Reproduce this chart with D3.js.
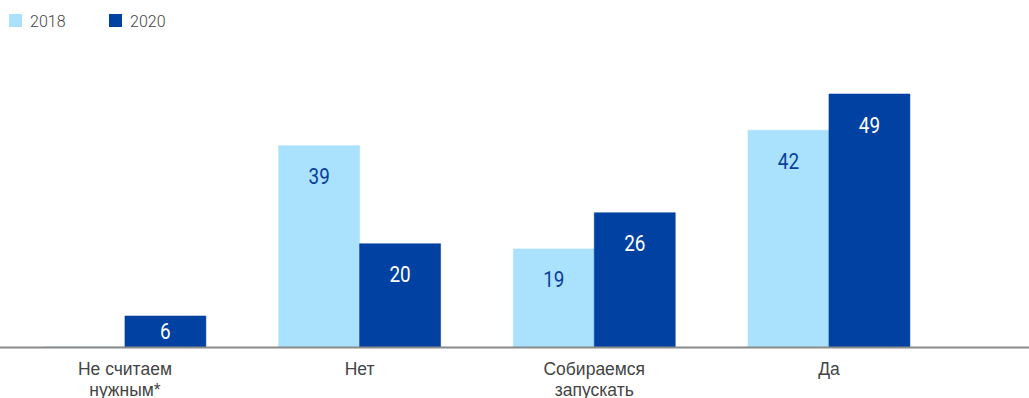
<!DOCTYPE html>
<html>
<head>
<meta charset="utf-8">
<script src="https://cdn.jsdelivr.net/npm/d3@7"></script>
<style>
  html, body { margin: 0; padding: 0; background: #fff; }
  svg { display: block; font-family: Roboto, "Noto Sans", sans-serif; }
</style>
</head>
<body>
<svg id="chart" width="1029" height="398"></svg>
<script>
// Survey answers, share of respondents (%)
const categories = [["Не считаем", "нужным*"], ["Нет"], ["Собираемся", "запускать"], ["Да"]];
const seriesNames = ["2018", "2020"];
const values2018 = [0, 39, 19, 42];
const values2020 = [6, 20, 26, 49];
const seriesValues = [values2018, values2020];
const colors = ["#aae1fc", "#0041a2"];
const labelColors = ["#0a3f9e", "#ffffff"];

const svg = d3.select("#chart");
const baseY = 347;

const catKeys = categories.map(c => c.join(" "));
const x = d3.scaleBand().domain(catKeys).range([7.6, 946.3]).paddingInner(0.31).paddingOuter(0.155);
const xs = d3.scaleBand().domain(seriesNames).range([0, x.bandwidth()]);
const y = d3.scaleLinear().domain([0, 49]).range([baseY, 94]);

// Bars
seriesNames.forEach((s, si) => {
  const g = svg.append("g");
  const data = seriesValues[si].map((v, i) => ({ key: catKeys[i], v }));
  g.selectAll("path").data(data).join("path")
    .attr("d", d => {
      const x0 = x(d.key) + xs(s), w = xs.bandwidth();
      const y0 = y(d.v), h = baseY - y0;
      return `M${x0},${y0}h${w}v${h}h${-w}Z`;
    })
    .attr("fill", colors[si])
    .attr("stroke", colors[si])
    .attr("stroke-width", 0.8)
    .attr("stroke-opacity", 0.7);

  g.selectAll("text").data(data.filter(d => d.v > 0)).join("text")
    .attr("transform", d => {
      const cx = x(d.key) + xs(s) + xs.bandwidth() / 2;
      const top = y(d.v);
      const cy = Math.min(top + 31, (top + baseY) / 2);
      return `translate(${cx},${cy}) scale(0.86,1)`;
    })
    .attr("text-anchor", "middle")
    .attr("dominant-baseline", "central")
    .attr("font-size", 22)
    .attr("fill", labelColors[si])
    .text(d => d.v);
});

// Baseline
svg.append("line")
  .attr("x1", 0).attr("x2", 1029)
  .attr("y1", baseY + 0.5).attr("y2", baseY + 0.5)
  .attr("stroke", "#8a8a8a").attr("stroke-width", 2);

// Category axis labels
const xAxis = d3.axisBottom(x).tickSize(0).tickFormat("");
const ax = svg.append("g").attr("transform", `translate(0,${baseY})`).call(xAxis);
ax.select(".domain").remove();
ax.selectAll(".tick").each(function(d, i) {
  const t = d3.select(this).append("text")
    .attr("text-anchor", "middle")
    .attr("font-size", 17.5)
    .attr("font-weight", 300)
    .attr("fill", "#444");
  categories[i].forEach((line, li) => {
    t.append("tspan").attr("x", 0).attr("y", 28 + li * 21).text(line);
  });
});

// Legend
const legend = svg.append("g");
seriesNames.forEach((s, si) => {
  const lx = 9 + si * 100;
  legend.append("rect").attr("x", lx).attr("y", 14).attr("width", 13).attr("height", 13).attr("fill", colors[si]);
  legend.append("text").attr("x", lx + 21).attr("y", 26.5)
    .attr("font-size", 16).attr("font-weight", 300).attr("fill", "#444").text(s);
});
</script>
</body>
</html>
